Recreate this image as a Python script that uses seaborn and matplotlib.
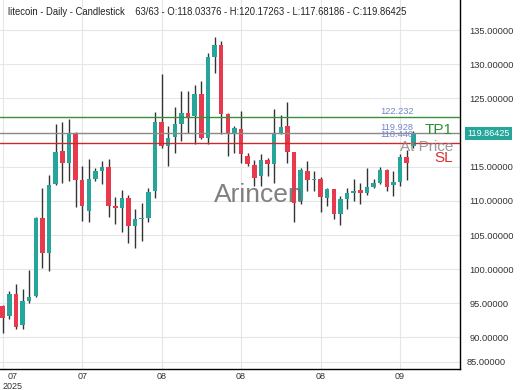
import matplotlib
matplotlib.use("Agg")
import matplotlib.pyplot as plt
import matplotlib.transforms as mtransforms
import numpy as np
import seaborn as sns
import pandas as pd

# daily litecoin candles (last one from the header)
opens = [94.6, 93.1, 96.3, 91.8, 95.3, 96.1, 107.5, 102.4, 112.5, 117.3,
         115.5, 119.9, 113.0, 108.5, 113.2, 114.4, 114.9, 109.2, 108.9, 110.4,
         106.3, 107.3, 107.5, 111.4, 121.5, 118.0, 119.3, 121.2, 122.8, 122.4,
         125.6, 119.2, 131.0, 132.8, 122.7, 119.8, 120.5, 116.6, 115.2, 113.6,
         116.0, 115.4, 119.9, 121.0, 117.1, 110.0, 114.4, 113.0, 113.2, 110.4,
         111.7, 108.1, 110.3, 111.1, 111.6, 111.1, 112.0, 112.6, 114.5, 112.3,
         112.7, 116.4, 118.03376]
highs = [94.8, 96.8, 97.8, 97.1, 99.9, 107.6, 111.9, 113.8, 121.2, 121.5,
         122.0, 120.1, 115.1, 116.1, 114.8, 115.8, 116.1, 110.5, 111.6, 110.8,
         108.8, 109.7, 111.9, 123.0, 128.6, 121.0, 123.7, 126.1, 126.1, 127.0,
         127.5, 131.6, 134.0, 133.4, 122.8, 121.0, 123.1, 117.0, 116.0, 116.8,
         116.3, 123.4, 122.6, 124.5, 117.2, 114.8, 115.8, 114.4, 113.5, 111.9,
         111.8, 110.7, 111.9, 113.2, 112.6, 114.8, 113.2, 115.0, 114.6, 114.4,
         116.8, 117.4, 120.17263]
lows = [90.6, 92.7, 91.2, 91.2, 95.0, 95.9, 100.2, 99.7, 112.3, 112.6,
        112.9, 109.1, 107.0, 106.9, 112.9, 112.5, 107.6, 106.6, 105.4, 103.8,
        103.1, 104.1, 106.9, 110.4, 117.7, 115.1, 117.0, 118.7, 119.9, 118.3,
        119.0, 118.3, 128.7, 119.8, 116.6, 117.0, 115.5, 115.1, 112.2, 112.2,
        113.6, 112.6, 119.8, 115.5, 106.9, 109.5, 111.4, 111.4, 108.4, 109.2,
        107.3, 106.4, 108.8, 110.0, 109.5, 110.9, 111.9, 112.5, 111.4, 110.7,
        112.2, 113.0, 117.68186]
closes = [92.8, 96.3, 91.5, 95.3, 95.9, 107.5, 102.4, 112.3, 117.1, 115.5,
          119.9, 113.0, 109.2, 113.2, 114.4, 114.9, 109.2, 108.9, 110.4, 106.3,
          107.3, 107.5, 111.3, 121.5, 118.0, 119.2, 121.2, 122.8, 122.3, 125.6,
          119.2, 131.0, 132.8, 122.7, 119.8, 120.7, 116.8, 115.4, 113.3, 116.0,
          115.4, 119.8, 120.8, 117.1, 109.7, 114.5, 113.0, 113.2, 110.5, 111.7,
          108.1, 110.3, 111.1, 111.5, 111.1, 112.0, 112.6, 114.5, 112.0, 112.7,
          116.4, 115.5, 119.86425]

tick_idx = [0, 12, 24, 36, 48, 60]
tick_labels = ["07\n2025", "07", "08", "08", "08", "09"]

tp1 = 122.232
at_price = 119.928
sl = 118.440
last_close = 119.86425

df = pd.DataFrame({"open": opens, "high": highs, "low": lows, "close": closes})
df["idx"] = np.arange(len(df))
df["up"] = df["close"] >= df["open"]
df["bottom"] = df[["open", "close"]].min(axis=1)
df["height"] = (df["close"] - df["open"]).abs().clip(lower=0.15)

sns.set_theme(style="whitegrid")
plt.rcParams["font.family"] = ["Liberation Sans", "DejaVu Sans"]

teal = "#26a69a"
red = "#e8394d"

fig = plt.figure(figsize=(5.2, 3.9), dpi=100)
ax = fig.add_axes([0, 21 / 390, 460 / 520, 373 / 390])
ax.set_facecolor("white")

# wicks then bodies
ax.vlines(df["idx"], df["low"], df["high"], color="#333333", linewidth=1.0, zorder=2)
colors = np.where(df["up"], teal, red)
ax.bar(df["idx"], df["height"], bottom=df["bottom"], width=0.68,
       color=colors, linewidth=0, zorder=3)

# level lines
ax.axhline(tp1, color="#3a8f3a", linewidth=1.0, zorder=4)
ax.axhline(at_price, color="#8a8a8a", linewidth=1.0, zorder=4)
ax.axhline(sl, color="#cc2a2a", linewidth=1.0, zorder=4)

lab_col = "#7386c9"
ax.text(62.0, 123.15, f"{tp1:.3f}", color=lab_col, fontsize=6.7, ha="right", va="center", zorder=6)
ax.text(62.0, 120.80, f"{at_price:.3f}", color=lab_col, fontsize=6.7, ha="right", va="center", zorder=6)
ax.text(62.0, 119.75, f"{sl:.3f}", color=lab_col, fontsize=6.7, ha="right", va="center", zorder=6)
ax.text(68.0, 120.35, "TP1", color="#2f8f2f", fontsize=11, ha="right", va="center", zorder=6)
ax.text(68.0, 117.85, "At Price", color="#888888", fontsize=11, ha="right", va="center", alpha=0.85, zorder=6)
ax.text(68.0, 116.35, "SL", color="#d63030", fontsize=11, ha="right", va="center", zorder=6)

# watermark
ax.text(0.563, 0.448, "Arincen", transform=ax.transAxes, fontsize=19, color="#6a6a6a",
        ha="center", va="baseline", alpha=0.85, zorder=5)

ax.set_xlim(-0.4, 69.05)
ax.set_ylim(85.38, 140.0)
ax.set_xticks(tick_idx)
ax.set_xticklabels(tick_labels)
yt = np.arange(90, 141, 5)
ax.set_yticks(yt)
# the 120 label sits under the last-price tag
ax.set_yticklabels(["" if v == 120 else f"{v:.5f}" for v in yt])
ax.yaxis.tick_right()
ax.tick_params(axis="y", length=0, pad=7, labelsize=6.7, labelcolor="#333333")
ax.tick_params(axis="x", length=0, pad=2.2, labelsize=6.5, labelcolor="#333333")
first = ax.get_xticklabels()[0]
first.set_horizontalalignment("left")
first.set_multialignment("center")
ax.grid(True, color="#e6e6e6", linewidth=0.8)
ax.set_axisbelow(True)

# clamped bottom label and its grid line
ax.axhline(86.4, color="#e6e6e6", linewidth=0.8, zorder=0)
ax.text(1.015, 86.4, "85.00000", transform=mtransforms.blended_transform_factory(ax.transAxes, ax.transData),
        fontsize=6.7, color="#333333", ha="left", va="center")

for side in ["top", "left"]:
    ax.spines[side].set_visible(False)
for side in ["bottom", "right"]:
    ax.spines[side].set_visible(True)
    ax.spines[side].set_color("black")
    ax.spines[side].set_linewidth(1.0)

# last price tag
ax.text(1.015, last_close, f"{last_close:.5f}",
        transform=mtransforms.blended_transform_factory(ax.transAxes, ax.transData),
        fontsize=6.6, color="white", ha="left", va="center", zorder=7,
        bbox=dict(boxstyle="square,pad=0.25", facecolor=teal, edgecolor="none"))

fig.text(8 / 520, 1 - 12 / 390,
         "litecoin - Daily - Candlestick    63/63 - O:118.03376 - H:120.17263 - L:117.68186 - C:119.86425",
         fontsize=6.85, color="#222222", ha="left", va="center")

fig.savefig("out.png", dpi=100)
